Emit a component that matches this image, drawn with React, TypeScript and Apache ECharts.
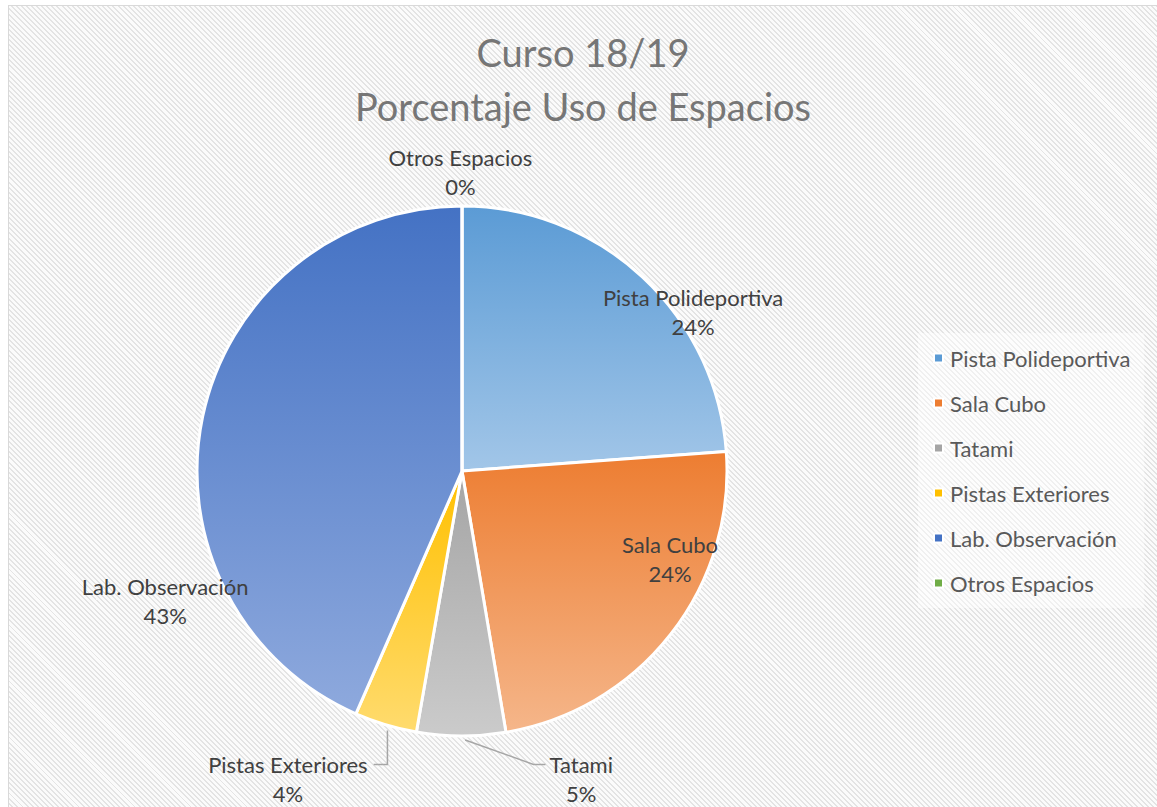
import React, { useEffect, useRef } from "react";
import * as echarts from "echarts";

// ---- data ----
const categories = [
  "Pista Polideportiva",
  "Sala Cubo",
  "Tatami",
  "Pistas Exteriores",
  "Lab. Observación",
  "Otros Espacios",
];
const shares = [23.8, 23.5, 5.4, 3.8, 43.4, 0];
const titleLines = ["Curso 18/19", "Porcentaje Uso de Espacios"];

// ---- styles ----
const colorsTop = ["#5b9bd5", "#ed7d31", "#a5a5a5", "#ffc000", "#4472c4", "#70ad47"];
const colorsBottom = ["#a2c6e8", "#f5b68a", "#cbcbcb", "#ffdb6e", "#8ea9dd", "#a9d18e"];
const FONT = "Lato";
const CX = 462;
const CY = 471;
const R = 265;
// label centre positions relative to pie centre, in units of R
const labelAnchors: number[][] = [
  [0.872, -0.60],
  [0.785, 0.332],
  [0.45, 1.162],
  [-0.657, 1.162],
  [-1.12, 0.49],
  [-0.006, -1.128],
];
const LINE_H = 29;

export default function App() {
  const ref = useRef<HTMLDivElement>(null);
  useEffect(() => {
    if (!ref.current) return;
    const chart = echarts.init(ref.current, undefined, { renderer: "svg" });
    const total = shares.reduce((a, b) => a + b, 0);
    const midAngle = (i: number) => {
      let before = 0;
      for (let k = 0; k < i; k++) before += shares[k];
      return ((before + shares[i] / 2) / total) * Math.PI * 2;
    };
    const data = categories.map((name, i) => {
      const leader = i === 2 || i === 3;
      return {
        name,
        value: shares[i],
        itemStyle: {
          color: new echarts.graphic.LinearGradient(0, 0, 0, 1, [
            { offset: 0, color: colorsTop[i] },
            { offset: 1, color: colorsBottom[i] },
          ]),
        },
        label: { position: leader ? "outside" : "inside" },
        labelLine: { show: leader },
      };
    });
    chart.setOption({
      animation: false,
      title: {
        text: titleLines.join("\n"),
        left: 583,
        top: 25,
        padding: 0,
        textAlign: "center",
        textStyle: {
          fontFamily: FONT,
          fontSize: 38,
          fontWeight: "normal",
          color: "#767676",
          lineHeight: 54,
        },
      },
      legend: {
        orient: "vertical",
        left: 918,
        top: 333,
        padding: [14, 14, 14, 15],
        backgroundColor: "rgba(255,255,255,0.45)",
        icon: "rect",
        itemWidth: 9,
        itemHeight: 9,
        itemGap: 23,
        data: categories.map((name, i) => ({ name, itemStyle: { color: colorsTop[i] } })),
        textStyle: {
          fontFamily: FONT,
          fontSize: 22,
          color: "#595959",
          lineHeight: 22,
          padding: [0, 0, 0, 2],
        },
      },
      series: [
        {
          type: "pie",
          center: [CX, CY],
          radius: R,
          startAngle: 90,
          clockwise: true,
          avoidLabelOverlap: false,
          percentPrecision: 0,
          itemStyle: { borderColor: "#ffffff", borderWidth: 3 },
          label: {
            show: true,
            formatter: "{b}\n{d}%",
            fontFamily: FONT,
            fontSize: 22,
            color: "#404040",
            lineHeight: LINE_H,
            align: "center",
          },
          labelLine: {
            show: false,
            smooth: false,
            lineStyle: { color: "#a6a6a6", width: 1.5 },
          },
          emphasis: { disabled: true },
          labelLayout: (params: any) => {
            const i = params.dataIndex;
            const a = labelAnchors[i];
            const x = CX + a[0] * R;
            const y = CY + a[1] * R;
            const out: any = { x, y, align: "center", verticalAlign: "middle" };
            if (i === 2 || i === 3) {
              const ang = midAngle(i);
              const sx = CX + (R + 4) * Math.sin(ang);
              const sy = CY - (R + 4) * Math.cos(ang);
              const w = params.labelRect ? params.labelRect.width : 60;
              const y1 = y - LINE_H / 2;
              if (i === 2) {
                const left = x - w / 2;
                out.labelLinePoints = [
                  [sx + 4, sy],
                  [left - 16, y1],
                  [left - 4, y1],
                ];
              } else {
                const right = x + w / 2;
                out.labelLinePoints = [
                  [sx + 3, sy + 2],
                  [sx + 3, y1],
                  [right + 6, y1],
                ];
              }
            }
            return out;
          },
          data,
        },
      ],
    });
    return () => chart.dispose();
  }, []);

  return (
    <div
      style={{
        position: "fixed",
        left: 0,
        top: 0,
        width: 1157,
        height: 807,
        overflow: "hidden",
        background: "#ffffff",
      }}
    >
      <div
        style={{
          position: "absolute",
          left: 8,
          top: 5,
          width: 1200,
          height: 900,
          borderLeft: "1.5px solid #d9d9d9",
          borderTop: "1.5px solid #d9d9d9",
          background:
            "repeating-linear-gradient(45deg, #e4e4e4 0px, #e4e4e4 1.4px, #fbfbfb 1.4px, #fbfbfb 3.6px)",
        }}
      />
      <div
        ref={ref}
        style={{ position: "absolute", left: 0, top: 0, width: 1157, height: 807 }}
      />
    </div>
  );
}
